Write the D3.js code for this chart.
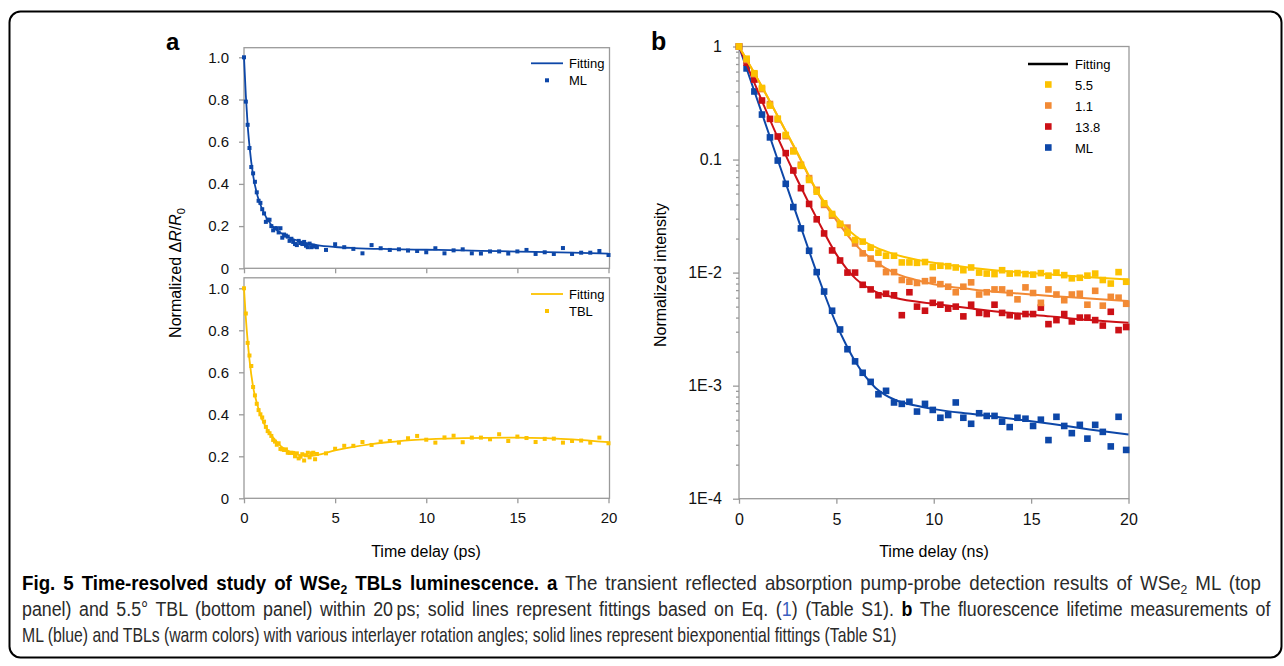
<!DOCTYPE html>
<html>
<head>
<meta charset="utf-8">
<script src="https://cdn.jsdelivr.net/npm/d3@7"></script>
<style>
    body { margin: 0; background: #fff; }
    svg text { font-family: "Liberation Sans", Arial, Helvetica, sans-serif; }
    .axis path, .axis line { stroke: #9a9a9a; stroke-width: 1.3px; }
    .axis text { fill: #111; }
    .caption text { font-family: "Liberation Sans", Arial, sans-serif; fill: #2a2a2a; }
</style>
</head>
<body>
<div id="figure"></div>
<script>

/* * * * * * * * * * * * * *
* * * * * * * * * * * * * */

// panel a - pump probe, time in ps
const probeTimes = [0, 0.1, 0.2, 0.3, 0.4, 0.5, 0.6, 0.7, 0.8, 0.9, 1.0, 1.1, 1.2, 1.3, 1.4, 1.5, 1.6, 1.7, 1.8, 1.9,
    2.0, 2.1, 2.2, 2.3, 2.4, 2.5, 2.6, 2.7, 2.8, 2.9, 3.0, 3.1, 3.2, 3.3, 3.4, 3.5, 3.6, 3.7, 3.8, 3.9, 4.0,
    4.5, 5, 5.5, 6, 6.5, 7, 7.5, 8, 8.5, 9, 9.5, 10, 10.5, 11, 11.5, 12, 12.5, 13, 13.5, 14, 14.5, 15, 15.5,
    16, 16.5, 17, 17.5, 18, 18.5, 19, 19.5, 20];
const mlProbe = [1.0, 0.79, 0.68, 0.57, 0.48, 0.45, 0.41, 0.36, 0.32, 0.31, 0.28, 0.26, 0.22, 0.23, 0.23, 0.20, 0.18, 0.19, 0.19, 0.17,
    0.19, 0.145, 0.16, 0.155, 0.15, 0.13, 0.14, 0.125, 0.115, 0.11, 0.13, 0.12, 0.115, 0.125, 0.107, 0.10, 0.117, 0.10, 0.107, 0.103, 0.10,
    0.087, 0.114, 0.10, 0.092, 0.071, 0.11, 0.095, 0.087, 0.09, 0.084, 0.082, 0.076, 0.095, 0.071, 0.085, 0.09, 0.071, 0.07, 0.08, 0.08,
    0.07, 0.08, 0.087, 0.068, 0.076, 0.068, 0.096, 0.068, 0.074, 0.074, 0.082, 0.063];
const tblProbe = [1.0, 0.88, 0.74, 0.68, 0.63, 0.53, 0.49, 0.45, 0.42, 0.40, 0.385, 0.365, 0.34, 0.32, 0.31, 0.297, 0.278, 0.27, 0.255, 0.262,
    0.235, 0.233, 0.23, 0.233, 0.217, 0.216, 0.217, 0.216, 0.20, 0.214, 0.19, 0.198, 0.21, 0.18, 0.205, 0.217, 0.195, 0.214, 0.217, 0.186, 0.211,
    0.214, 0.236, 0.25, 0.25, 0.268, 0.254, 0.27, 0.273, 0.265, 0.286, 0.297, 0.279, 0.265, 0.29, 0.298, 0.267, 0.289, 0.289, 0.281, 0.305,
    0.273, 0.294, 0.287, 0.268, 0.283, 0.284, 0.265, 0.273, 0.275, 0.265, 0.289, 0.262];

const mlProbeFitTimes = [0, 0.1, 0.2, 0.3, 0.5, 0.75, 1, 1.5, 2, 2.5, 3, 3.5, 4, 5, 6, 8, 10, 12, 14, 16, 18, 20];
const mlProbeFit = [1, 0.82, 0.68, 0.58, 0.44, 0.34, 0.28, 0.205, 0.168, 0.145, 0.13, 0.118, 0.11, 0.101, 0.096, 0.091, 0.088, 0.085, 0.081, 0.078, 0.074, 0.07];
const tblProbeFitTimes = [0, 0.1, 0.2, 0.3, 0.5, 0.75, 1, 1.5, 2, 2.5, 3, 3.5, 4, 5, 6, 7, 8, 9, 10, 12, 15, 18, 20];
const tblProbeFit = [1, 0.86, 0.75, 0.66, 0.53, 0.44, 0.375, 0.30, 0.25, 0.222, 0.207, 0.202, 0.206, 0.228, 0.245, 0.258, 0.268, 0.276, 0.281, 0.287, 0.289, 0.281, 0.267];

const probeYTicks = [0, 0.2, 0.4, 0.6, 0.8, 1.0];
const probeXTicks = [0, 5, 10, 15, 20];

// panel b - fluorescence lifetime, time in ns
const lifeTimes = [0, 0.39, 0.79, 1.18, 1.59, 1.99, 2.40, 2.79, 3.18, 3.60, 3.99, 4.37, 4.78, 5.19, 5.57, 5.96, 6.35, 6.76,
    7.16, 7.55, 7.96, 8.36, 8.75, 9.14, 9.55, 9.95, 10.34, 10.74, 11.13, 11.52, 11.92, 12.33, 12.72, 13.12, 13.51, 13.90,
    14.30, 14.71, 15.10, 15.50, 15.89, 16.30, 16.70, 17.09, 17.50, 17.89, 18.29, 18.68, 19.09, 19.49, 19.88];
const lifeSeries = ["5.5", "1.1", "13.8", "ML"];
const life55 = [1, 0.78, 0.58, 0.43, 0.30, 0.23, 0.165, 0.118, 0.088, 0.066, 0.052, 0.041, 0.033, 0.027, 0.0225, 0.0194, 0.0188,
    0.0166, 0.015, 0.0141, 0.0141, 0.0123, 0.0123, 0.0122, 0.0124, 0.0112, 0.0115, 0.0114, 0.0111, 0.0105, 0.0111, 0.0100,
    0.0098, 0.0097, 0.0105, 0.0098, 0.0099, 0.0097, 0.0096, 0.0099, 0.0094, 0.0100, 0.0095, 0.0089, 0.009, 0.0094, 0.0098,
    0.0086, 0.008, 0.0101, 0.0083];
const life11 = [1, 0.76, 0.57, 0.42, 0.31, 0.226, 0.161, 0.12, 0.09, 0.0685, 0.054, 0.0397, 0.0319, 0.0264, 0.025, 0.0181, 0.0148,
    0.0133, 0.0119, 0.0101, 0.0101, 0.0086, 0.0083, 0.0081, 0.0084, 0.0086, 0.0079, 0.0075, 0.0067, 0.0075, 0.0082, 0.0064,
    0.0067, 0.0071, 0.0071, 0.0066, 0.0058, 0.0074, 0.0066, 0.0054, 0.0071, 0.0064, 0.0057, 0.0064, 0.0065, 0.0052, 0.0069,
    0.0051, 0.0061, 0.0060, 0.0053];
const life138 = [1, 0.72, 0.51, 0.333, 0.229, 0.16, 0.114, 0.080, 0.0558, 0.0405, 0.0296, 0.0222, 0.0157, 0.0128, 0.0100, 0.0100,
    0.0078, 0.0071, 0.0063, 0.0065, 0.0063, 0.0042, 0.0067, 0.0050, 0.0046, 0.0054, 0.0052, 0.0048, 0.0050, 0.0041, 0.0052,
    0.0044, 0.0043, 0.0052, 0.0044, 0.0042, 0.0041, 0.0043, 0.0043, 0.0049, 0.0035, 0.0038, 0.0043, 0.0037, 0.0040, 0.0040,
    0.0038, 0.0034, 0.0045, 0.0031, 0.0033];
const lifeML = [1, 0.64, 0.40, 0.25, 0.157, 0.098, 0.061, 0.038, 0.0246, 0.0156, 0.0101, 0.0068, 0.0046, 0.00314, 0.0021, 0.00164,
    0.0013, 0.00108, 0.00084, 0.0009, 0.00071, 0.00069, 0.00072, 0.00059, 0.00069, 0.00061, 0.00052, 0.00055, 0.00071, 0.00052,
    0.00046, 0.00057, 0.00054, 0.00054, 0.00048, 0.00043, 0.00052, 0.00051, 0.00044, 0.0005, 0.00033, 0.00053, 0.00044, 0.00038,
    0.00045, 0.00034, 0.00045, 0.00039, 0.00029, 0.00053, 0.00027];

const lifeFitTimes55 = [0, 1, 2, 3, 4, 5, 6, 7, 8, 10, 12, 14, 16, 18, 20];
const lifeFit55 = [1, 0.50, 0.24, 0.115, 0.053, 0.031, 0.021, 0.0168, 0.0145, 0.0122, 0.011, 0.0102, 0.0096, 0.0091, 0.0087];
const lifeFitTimes11 = [0, 1, 2, 3, 4, 5, 6, 7, 8, 9, 10, 12, 14, 16, 18, 20];
const lifeFit11 = [1, 0.50, 0.24, 0.113, 0.052, 0.029, 0.0175, 0.0125, 0.0099, 0.0087, 0.0079, 0.0071, 0.0066, 0.0062, 0.0059, 0.0056];
const lifeFitTimes138 = [0, 1, 2, 3, 4, 5, 6, 7, 8, 10, 12, 14, 16, 18, 20];
const lifeFit138 = [1, 0.39, 0.155, 0.066, 0.03, 0.0145, 0.0088, 0.0068, 0.006, 0.0053, 0.0048, 0.0044, 0.0041, 0.0038, 0.0036];
const lifeFitTimesML = [0, 1, 2, 3, 4, 5, 5.5, 6, 6.5, 7, 7.5, 8, 9, 10, 12, 14, 16, 18, 20];
const lifeFitML = [1, 0.315, 0.098, 0.031, 0.0099, 0.0035, 0.0023, 0.0016, 0.0012, 0.00096, 0.00083, 0.00075, 0.00067, 0.00062, 0.00056, 0.00051, 0.00046, 0.00041, 0.00037];

const lifeYTicks = [1, 0.1, 0.01, 0.001, 0.0001];
const lifeYTickLabels = ["1", "0.1", "1E-2", "1E-3", "1E-4"];
const lifeXTicks = [0, 5, 10, 15, 20];

const colors = {blue: "#0d47a8", yellow: "#fcc200", orange: "#f28a35", red: "#cc1016"};


/* * * * * * * * * * * * * *
*       class ProbeVis        *
* * * * * * * * * * * * * */

class ProbeVis {

    constructor(svg, opts) {
        this.svg = svg;
        this.opts = opts;
        this.initVis();
    }

    initVis() {
        let vis = this;
        let o = vis.opts;

        vis.x = d3.scaleLinear().domain([0, 20]).range([244, 608.5]);
        vis.y = d3.scaleLinear().domain([0, 1]).range([o.bottom, o.one]);

        vis.g = vis.svg.append("g");

        // gray frame
        vis.g.append("rect")
            .attr("x", 244).attr("y", o.top)
            .attr("width", 609.5 - 244).attr("height", o.bottom - o.top)
            .attr("fill", "none").attr("stroke", "#9a9a9a").attr("stroke-width", 1.3);

        vis.g.append("g")
            .attr("class", "axis")
            .attr("transform", `translate(244,0)`)
            .call(d3.axisLeft(vis.y).tickValues(probeYTicks).tickSize(5).tickPadding(10)
                .tickFormat(d => d === 0 ? "0" : d.toFixed(1)))
            .call(g => g.select(".domain").remove())
            .selectAll("text").style("font-size", "15px");

        vis.g.append("g")
            .attr("class", "axis")
            .attr("transform", `translate(0,${o.bottom})`)
            .call(d3.axisBottom(vis.x).tickValues(probeXTicks).tickSize(5).tickPadding(9)
                .tickFormat(o.xLabels ? d3.format("d") : ""))
            .call(g => g.select(".domain").remove())
            .selectAll("text").style("font-size", "15px");

        vis.wrangleData();
    }

    wrangleData() {
        let vis = this;
        let o = vis.opts;
        vis.points = o.times.map((t, i) => ({t: t, v: o.values[i]}));
        vis.fit = o.fitTimes.map((t, i) => ({t: t, v: o.fitValues[i]}));
        vis.updateVis();
    }

    updateVis() {
        let vis = this;
        let o = vis.opts;

        vis.g.selectAll(".pt")
            .data(vis.points)
            .enter().append("rect")
            .attr("class", "pt")
            .attr("x", d => vis.x(d.t) - 2)
            .attr("y", d => vis.y(d.v) - 2)
            .attr("width", 4).attr("height", 4)
            .attr("fill", o.color);

        let line = d3.line()
            .x(d => vis.x(d.t))
            .y(d => vis.y(d.v))
            .curve(d3.curveMonotoneX);

        vis.g.append("path")
            .datum(vis.fit)
            .attr("d", line)
            .attr("fill", "none")
            .attr("stroke", o.color)
            .attr("stroke-width", 1.8);

        // legend
        let lg = vis.g.append("g").attr("transform", `translate(0,${o.legendY})`);
        lg.append("line").attr("x1", 531).attr("x2", 563).attr("y1", 0).attr("y2", 0)
            .attr("stroke", o.color).attr("stroke-width", 1.8);
        lg.append("text").attr("x", 569).attr("y", 5).style("font-size", "13px").text("Fitting");
        lg.append("rect").attr("x", 545).attr("y", 15).attr("width", 4).attr("height", 4).attr("fill", o.color);
        lg.append("text").attr("x", 569).attr("y", 22).style("font-size", "13px").text(o.name);
    }
}


/* * * * * * * * * * * * * *
*       class LifetimeVis     *
* * * * * * * * * * * * * */

class LifetimeVis {

    constructor(svg, series) {
        this.svg = svg;
        this.series = series;
        this.initVis();
    }

    initVis() {
        let vis = this;

        vis.x = d3.scaleLinear().domain([0, 20]).range([739, 1128.5]);
        vis.y = d3.scaleLog().domain([1e-4, 1]).range([498.7, 46.5]);

        vis.g = vis.svg.append("g");

        vis.g.append("rect")
            .attr("x", 739).attr("y", 46.5)
            .attr("width", 1129 - 739).attr("height", 498.7 - 46.5)
            .attr("fill", "none").attr("stroke", "#9a9a9a").attr("stroke-width", 1.3);

        // minor ticks 2..9 per decade
        let minor = vis.y.ticks().filter(d => lifeYTicks.indexOf(d) < 0);
        vis.g.append("g")
            .attr("class", "axis")
            .attr("transform", "translate(739,0)")
            .call(d3.axisLeft(vis.y).tickValues(minor).tickSize(3).tickFormat(""))
            .call(g => g.select(".domain").remove());

        vis.g.append("g")
            .attr("class", "axis")
            .attr("transform", "translate(739,0)")
            .call(d3.axisLeft(vis.y).tickValues(lifeYTicks).tickSize(6).tickPadding(11)
                .tickFormat((d, i) => lifeYTickLabels[i]))
            .call(g => g.select(".domain").remove())
            .selectAll("text").style("font-size", "16px");

        vis.g.append("g")
            .attr("class", "axis")
            .attr("transform", "translate(0,498.7)")
            .call(d3.axisBottom(vis.x).tickValues(lifeXTicks).tickSize(5).tickPadding(10))
            .call(g => g.select(".domain").remove())
            .selectAll("text").style("font-size", "16px");

        vis.updateVis();
    }

    updateVis() {
        let vis = this;

        let line = d3.line()
            .x(d => vis.x(d.t))
            .y(d => vis.y(d.v))
            .curve(d3.curveMonotoneX);

        // draw ML first so warm colours sit on top
        vis.series.slice().reverse().forEach(s => {
            let pts = lifeTimes.map((t, i) => ({t: t, v: s.values[i]}));
            vis.g.append("g").selectAll("rect")
                .data(pts)
                .enter().append("rect")
                .attr("x", d => vis.x(d.t) - 3.3)
                .attr("y", d => vis.y(d.v) - 3.3)
                .attr("width", 6.6).attr("height", 6.6)
                .attr("fill", s.color);

            vis.g.append("path")
                .datum(s.fitTimes.map((t, i) => ({t: t, v: s.fit[i]})))
                .attr("d", line)
                .attr("fill", "none")
                .attr("stroke", s.color)
                .attr("stroke-width", 2);
        });

        // legend
        let lg = vis.g.append("g");
        lg.append("line").attr("x1", 1028).attr("x2", 1068).attr("y1", 64).attr("y2", 64)
            .attr("stroke", "#000").attr("stroke-width", 2.5);
        lg.append("text").attr("x", 1075).attr("y", 69).style("font-size", "13px").text("Fitting");
        vis.series.forEach((s, i) => {
            let yy = 84.5 + i * 21;
            lg.append("rect").attr("x", 1045).attr("y", yy - 3.3).attr("width", 6.6).attr("height", 6.6).attr("fill", s.color);
            lg.append("text").attr("x", 1075).attr("y", yy + 5).style("font-size", "13px").text(s.name);
        });
    }
}


/* * * * * * * * * * * * * *
*           main              *
* * * * * * * * * * * * * */

let svg = d3.select("#figure").append("svg")
    .attr("width", 1284)
    .attr("height", 666);

svg.append("rect")
    .attr("x", 9.5).attr("y", 11.5)
    .attr("width", 1272).attr("height", 646)
    .attr("rx", 11)
    .attr("fill", "#fff").attr("stroke", "#000").attr("stroke-width", 2);

new ProbeVis(svg, {
    top: 47.7, one: 57.3, bottom: 268.3, xLabels: false, legendY: 63.3,
    times: probeTimes, values: mlProbe, fitTimes: mlProbeFitTimes, fitValues: mlProbeFit,
    color: colors.blue, name: "ML"
});
new ProbeVis(svg, {
    top: 277.8, one: 288.3, bottom: 498.3, xLabels: true, legendY: 294,
    times: probeTimes, values: tblProbe, fitTimes: tblProbeFitTimes, fitValues: tblProbeFit,
    color: colors.yellow, name: "TBL"
});

new LifetimeVis(svg, [
    {name: lifeSeries[0], color: colors.yellow, values: life55, fitTimes: lifeFitTimes55, fit: lifeFit55},
    {name: lifeSeries[1], color: colors.orange, values: life11, fitTimes: lifeFitTimes11, fit: lifeFit11},
    {name: lifeSeries[2], color: colors.red, values: life138, fitTimes: lifeFitTimes138, fit: lifeFit138},
    {name: lifeSeries[3], color: colors.blue, values: lifeML, fitTimes: lifeFitTimesML, fit: lifeFitML}
]);

// panel letters
svg.append("text").attr("x", 166).attr("y", 50).style("font-size", "24px").style("font-weight", "bold").text("a");
svg.append("text").attr("x", 651).attr("y", 50).style("font-size", "25px").style("font-weight", "bold").text("b");

// axis titles
let ya = svg.append("text")
    .attr("transform", "translate(181,273) rotate(-90)")
    .attr("text-anchor", "middle")
    .style("font-size", "16px");
ya.append("tspan").text("Normalized \u0394");
ya.append("tspan").style("font-style", "italic").text("R");
ya.append("tspan").text("/");
ya.append("tspan").style("font-style", "italic").text("R");
ya.append("tspan").attr("dy", 4).style("font-size", "11px").text("0");

svg.append("text")
    .attr("transform", "translate(666,275) rotate(-90)")
    .attr("text-anchor", "middle")
    .style("font-size", "16px")
    .text("Normalized intensity");

svg.append("text").attr("x", 426).attr("y", 557).attr("text-anchor", "middle").style("font-size", "16px").text("Time delay (ps)");
svg.append("text").attr("x", 934).attr("y", 557).attr("text-anchor", "middle").style("font-size", "16px").text("Time delay (ns)");

// caption - condensed look: a bit of extra word gap on the justified lines,
// then each line squeezed horizontally to the width
let cap = svg.append("g").attr("class", "caption");

function capLine(y, width, wordGap, parts) {
    let t = cap.append("text")
        .attr("x", 0).attr("y", 0)
        .style("font-size", "20px")
        .style("word-spacing", wordGap + "px");
    parts.forEach(p => {
        let s = t.append("tspan").text(p.s);
        if (p.b) s.style("font-weight", "bold").style("fill", "#000");
        if (p.c) s.style("fill", p.c);
        if (p.sub) s.attr("dy", 4).style("font-size", "13px");
        if (p.up) s.attr("dy", -4);
    });
    let natural = t.node().getComputedTextLength();
    t.attr("transform", `translate(22,${y}) scale(${width / natural},1)`);
}

capLine(590, 1240, 3, [
    {s: "Fig. 5 Time-resolved study of WSe", b: true},
    {s: "2", b: true, sub: true},
    {s: " TBLs luminescence. a", b: true, up: true},
    {s: " The transient reflected absorption pump-probe detection results of WSe"},
    {s: "2", sub: true},
    {s: " ML (top", up: true}
]);
capLine(616, 1249, 3, [
    {s: "panel) and 5.5\u00b0 TBL (bottom panel) within 20\u2009ps; solid lines represent fittings based on Eq. ("},
    {s: "1", c: "#3b5fc0"},
    {s: ") (Table S1). "},
    {s: "b", b: true},
    {s: " The fluorescence lifetime measurements of"}
]);
capLine(642, 875, 0, [
    {s: "ML (blue) and TBLs (warm colors) with various interlayer rotation angles; solid lines represent biexponential fittings (Table S1)"}
]);

</script>
</body>
</html>
